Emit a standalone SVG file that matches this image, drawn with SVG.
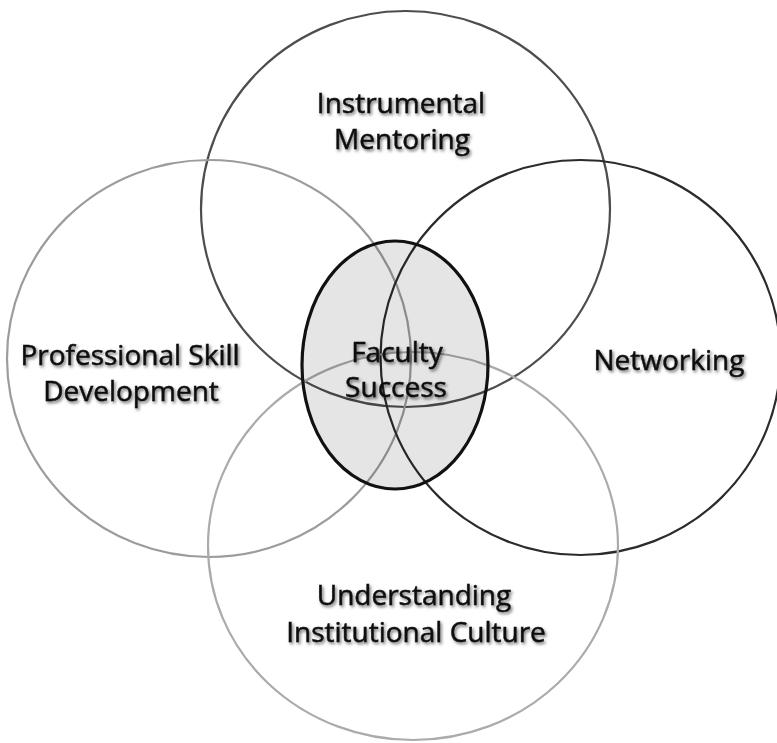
<svg xmlns="http://www.w3.org/2000/svg" width="777" height="743" viewBox="0 0 777 743">
  <defs>
    <filter id="soft-shadow" x="-10%" y="-30%" width="120%" height="160%">
      <feDropShadow dx="1.5" dy="2" stdDeviation="1.4" flood-color="#000" flood-opacity="0.55"/>
    </filter>
  </defs>
  <style>
    .ring { fill: none; stroke-width: 2.2; }
    .label { font-family: "Open Sans", "Liberation Sans", sans-serif; font-size: 28px; fill: #0d0d0d; stroke: #0d0d0d; stroke-width: 0.5; text-anchor: middle; filter: url(#soft-shadow); }
    .core { fill: #000; fill-opacity: 0.1; stroke: #111; stroke-width: 3.2; }
  </style>
  <rect width="777" height="743" fill="#fff"/>

  <g id="instrumental-mentoring">
    <ellipse class="ring" cx="405.5" cy="209" rx="204.5" ry="198" stroke="#4d4d4d"/>
    <text class="label" x="401" y="113">Instrumental</text>
    <text class="label" x="402" y="149">Mentoring</text>
  </g>

  <g id="professional-skill-development">
    <ellipse class="ring" cx="209" cy="358.5" rx="202" ry="198.5" stroke="#9c9c9c"/>
    <text class="label" x="130" y="365">Professional Skill</text>
    <text class="label" x="131" y="401">Development</text>
  </g>

  <g id="networking">
    <ellipse class="ring" cx="580.5" cy="357.5" rx="200" ry="197.5" stroke="#2b2b2b"/>
    <text class="label" x="669" y="370">Networking</text>
  </g>

  <g id="understanding-institutional-culture">
    <ellipse class="ring" cx="413" cy="546" rx="205" ry="194" stroke="#ababab"/>
    <text class="label" x="414" y="605">Understanding</text>
    <text class="label" x="416" y="642">Institutional Culture</text>
  </g>

  <g id="faculty-success">
    <ellipse class="core" cx="395" cy="365" rx="93" ry="124"/>
    <text class="label" x="397" y="362">Faculty</text>
    <text class="label" x="396" y="397">Success</text>
  </g>
</svg>
